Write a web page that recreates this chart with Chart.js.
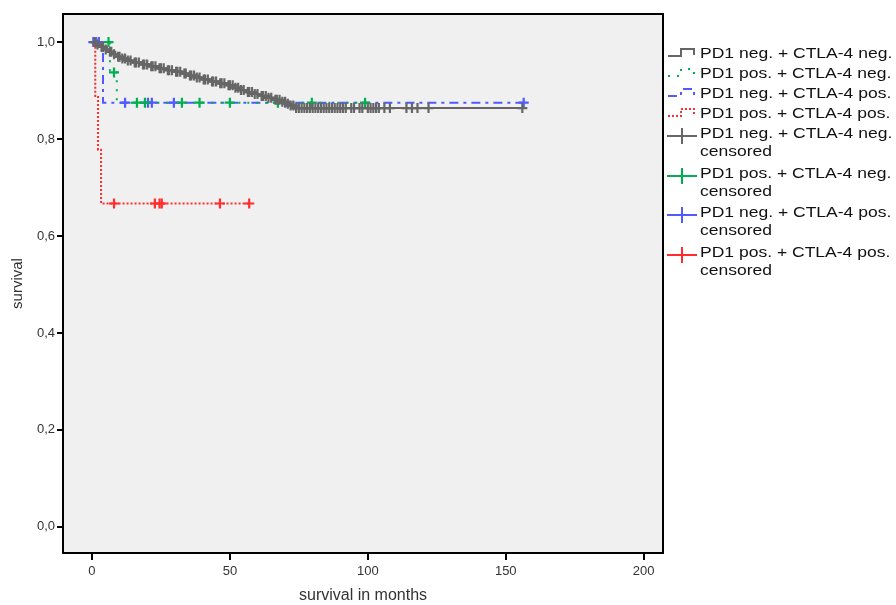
<!DOCTYPE html>
<html>
<head>
<meta charset="utf-8">
<script src="https://cdn.jsdelivr.net/npm/chart.js@4.4.1/dist/chart.umd.min.js"></script>
<style>
  html, body { margin: 0; padding: 0; background: #ffffff; }
  #wrap { position: relative; width: 896px; height: 605px; }
  #km { position: absolute; left: 0; top: 0; }
  .leg { position: absolute; left: 666px; font-family: "Liberation Sans", Arial, sans-serif;
         font-size: 15.5px; color: #111; line-height: 18px; white-space: nowrap; }
  .leg svg { position: absolute; left: 0; top: 0; }
  .leg .txt { position: absolute; left: 34px; top: 0; transform: scaleX(1.13); transform-origin: 0 0; }
</style>
</head>
<body>
<div id="wrap">
  <canvas id="km" width="896" height="605"></canvas>
  <div id="legend"></div>
</div>
<script>
// Kaplan-Meier steps: time (months) and survival after the event
const grayTimes = [0, 1.5, 3, 4.5, 6, 7.5, 9, 10.5, 12.5, 15, 18, 21, 24, 27, 30, 33, 35, 37.5, 40, 43, 46, 49, 51.5, 53.5, 56, 58.5, 61, 63.5, 66, 68.5, 70.5, 72, 73.5, 156];
const grayValues = [1.0, 0.995, 0.990, 0.985, 0.980, 0.975, 0.970, 0.966, 0.962, 0.958, 0.954, 0.950, 0.946, 0.942, 0.939, 0.935, 0.931, 0.927, 0.923, 0.919, 0.915, 0.911, 0.906, 0.901, 0.897, 0.893, 0.889, 0.885, 0.881, 0.877, 0.873, 0.869, 0.864, 0.864];
const grayCensored = [1, 2, 3.5, 4, 5, 6.5, 7, 8, 9.5, 10, 11, 12, 13, 14, 15.5, 16, 17, 18.5, 19, 20, 21.5, 22, 23, 24.5, 25, 26, 27.5, 28, 29, 30.5, 31, 32, 33.5, 34, 35.5, 36, 37, 38, 39, 40.5, 41, 42, 43.5, 44, 45, 46.5, 47, 48, 49.5, 50, 51, 52, 53, 54, 55, 56.5, 57, 58, 59, 60, 61.5, 62, 63, 64, 65, 66.5, 67, 68, 69, 70, 71, 72, 73,
  74, 75, 76, 77, 78, 79, 80, 81, 82, 83, 84, 85, 86, 87, 88, 89, 90, 91, 92, 94, 95, 97, 98, 100, 101, 102, 103, 104, 106, 108, 114, 116, 118, 122, 156];

const greenTimes = [0, 6.5, 9, 100];
const greenValues = [1.0, 0.9375, 0.875, 0.875];
const greenCensored = [6, 8, 16.3, 19.2, 32.6, 39, 50, 67.4, 79.7, 99];

const blueTimes = [0, 4, 156.5];
const blueValues = [1.0, 0.875, 0.875];
const blueCensored = [0.5, 1.5, 2.5, 12, 20.3, 21.7, 29.7, 70, 156.5];

const redTimes = [0, 1.2, 2.2, 3.3, 57];
const redValues = [1.0, 0.889, 0.778, 0.667, 0.667];
const redCensored = [8, 22.8, 24.5, 25.3, 46.4, 57];

const xTicks = [0, 50, 100, 150, 200];
const yTicks = [0, 0.2, 0.4, 0.6, 0.8, 1.0];

const seriesNames = ["PD1 neg. + CTLA-4 neg.", "PD1 pos. + CTLA-4 neg.", "PD1 neg. + CTLA-4 pos.", "PD1 pos. + CTLA-4 pos."];
const censoredSuffix = "censored";

const GRAY = "rgb(102,102,102)";
const GREEN = "rgb(0,176,80)";
const BLUE = "rgb(80,90,255)";
const RED = "rgb(255,45,45)";

function stepPoints(times, values) {
  return times.map((t, i) => ({ x: t, y: values[i] }));
}
// survival value of the step curve at time t
function survivalAt(times, values, t) {
  let s = values[0];
  for (let i = 0; i < times.length; i++) { if (times[i] <= t) s = values[i]; }
  return s;
}
function censorPoints(cens, times, values) {
  return cens.map(t => ({ x: t, y: survivalAt(times, values, t) }));
}

const curves = [
  { times: grayTimes, values: grayValues, cens: grayCensored, color: GRAY, dash: [] },
  { times: greenTimes, values: greenValues, cens: greenCensored, color: GREEN, dash: [2, 7] },
  { times: blueTimes, values: blueValues, cens: blueCensored, color: BLUE, dash: [9, 5, 3, 5] },
  { times: redTimes, values: redValues, cens: redCensored, color: RED, dash: [2, 2] }
];

const datasets = [];
curves.forEach((c, i) => {
  datasets.push({
    label: seriesNames[i],
    data: stepPoints(c.times, c.values),
    stepped: 'before',
    borderColor: c.color,
    borderWidth: 2,
    borderDash: c.dash,
    pointRadius: 0,
    fill: false,
    order: 2
  });
});
curves.forEach((c, i) => {
  datasets.push({
    label: seriesNames[i] + " " + censoredSuffix,
    data: censorPoints(c.cens, c.times, c.values),
    showLine: false,
    pointStyle: 'cross',
    pointRadius: 5,
    pointBorderWidth: 2.2,
    borderColor: c.color,
    backgroundColor: c.color,
    order: 1
  });
});

const frame = {
  id: 'frame',
  beforeDatasetsDraw(chart) {
    const a = chart.chartArea, ctx = chart.ctx;
    ctx.save();
    ctx.fillStyle = '#f0f0f0';
    ctx.fillRect(a.left, a.top, a.right - a.left, a.bottom - a.top);
    ctx.restore();
  },
  afterDraw(chart) {
    const a = chart.chartArea, ctx = chart.ctx;
    ctx.save();
    ctx.strokeStyle = '#000';
    ctx.lineWidth = 2;
    ctx.strokeRect(a.left, a.top, a.right - a.left, a.bottom - a.top);
    ctx.restore();
  }
};

new Chart(document.getElementById('km'), {
  type: 'line',
  data: { datasets },
  plugins: [frame],
  options: {
    responsive: false,
    animation: false,
    events: [],
    layout: { padding: { left: 0, top: 14, right: 233, bottom: 0 } },
    plugins: { legend: { display: false }, tooltip: { enabled: false } },
    scales: {
      x: {
        type: 'linear',
        min: -10.5, max: 207,
        afterBuildTicks: s => { s.ticks = xTicks.map(v => ({ value: v })); },
        afterFit: s => { s.height = 52; },
        grid: { drawOnChartArea: false, drawTicks: true, tickLength: 7, color: '#000', lineWidth: 2 },
        border: { display: false },
        ticks: { color: '#333', font: { family: 'Liberation Sans', size: 13 }, padding: 4, maxRotation: 0 },
        title: { display: true, text: 'survival in months', color: '#333',
                 font: { family: 'Liberation Sans', size: 16 }, padding: { top: 8, bottom: 0 } }
      },
      y: {
        type: 'linear',
        min: -0.054, max: 1.058,
        afterBuildTicks: s => { s.ticks = yTicks.map(v => ({ value: v })); },
        afterFit: s => { s.width = 63; },
        grid: { drawOnChartArea: false, drawTicks: true, tickLength: 6, color: '#000', lineWidth: 2 },
        border: { display: false },
        ticks: { color: '#333', font: { family: 'Liberation Sans', size: 13 }, padding: 2,
                 callback: v => v.toFixed(1).replace('.', ',') },
        title: { display: true, text: 'survival', color: '#333',
                 font: { family: 'Liberation Sans', size: 15 }, padding: { top: 9, bottom: 0 } }
      }
    }
  }
});

// legend at the right of the plot
const legend = document.getElementById('legend');
const lineIcon = (color, dash) =>
  `<svg width="32" height="18"><path d="M2,12 H15 V5 H28 V11" fill="none" stroke="${color}" stroke-width="2" ${dash.length ? `stroke-dasharray="${dash.join(' ')}"` : ''}/></svg>`;
const crossIcon = color =>
  `<svg width="32" height="24"><path d="M1,12 H31 M16,4 V20" fill="none" stroke="${color}" stroke-width="2"/></svg>`;
const legendTops = [44, 64, 84, 104, 124, 164, 203, 243];
curves.forEach((c, i) => {
  const d = document.createElement('div');
  d.className = 'leg';
  d.style.top = legendTops[i] + 'px';
  d.innerHTML = lineIcon(c.color, c.dash) + `<span class="txt">${seriesNames[i]}</span>`;
  legend.appendChild(d);
});
curves.forEach((c, i) => {
  const d = document.createElement('div');
  d.className = 'leg';
  d.style.top = legendTops[4 + i] + 'px';
  d.innerHTML = crossIcon(c.color) + `<span class="txt">${seriesNames[i]}<br>${censoredSuffix}</span>`;
  legend.appendChild(d);
});
</script>
</body>
</html>
